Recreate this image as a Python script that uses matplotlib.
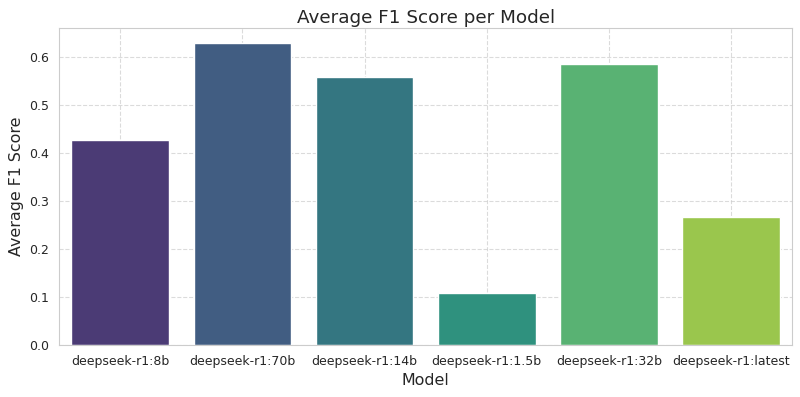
import matplotlib
matplotlib.use("Agg")
import matplotlib.pyplot as plt
import seaborn as sns
import pandas as pd

models = ["deepseek-r1:8b", "deepseek-r1:70b", "deepseek-r1:14b",
          "deepseek-r1:1.5b", "deepseek-r1:32b", "deepseek-r1:latest"]
f1_scores = [0.427, 0.629, 0.557, 0.108, 0.586, 0.266]

df = pd.DataFrame({"Model": models, "Average F1 Score": f1_scores})

sns.set_style("whitegrid")
fig, ax = plt.subplots(figsize=(8, 3.97), dpi=100)
sns.barplot(data=df, x="Model", y="Average F1 Score", hue="Model",
            palette="viridis", legend=False, ax=ax)
ax.set_title("Average F1 Score per Model", fontsize=13.2, pad=3.5)
ax.set_xlabel("Model", fontsize=11.4)
ax.set_ylabel("Average F1 Score", fontsize=11.4)
ax.tick_params(axis="both", labelsize=9)
ax.grid(True, linestyle="--", alpha=0.7)
fig.subplots_adjust(left=0.074, right=0.99, top=0.93, bottom=0.131)
plt.savefig("out.png")
